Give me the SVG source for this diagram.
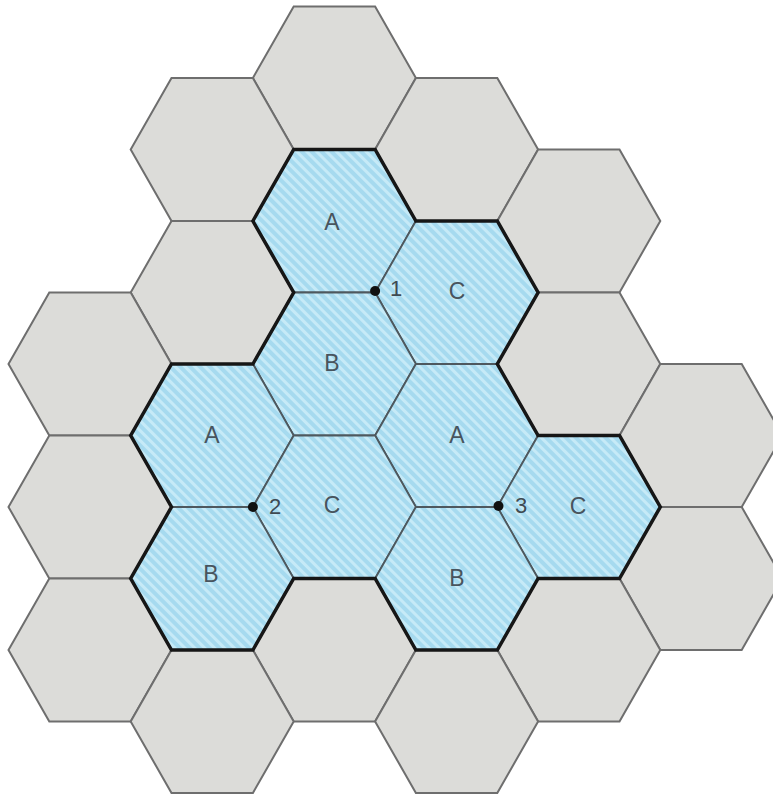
<svg xmlns="http://www.w3.org/2000/svg" xmlns:xlink="http://www.w3.org/1999/xlink" width="773" height="796" viewBox="0 0 773 796">
<style>
.grey{fill:#dcdcd9;stroke:#6e6e6e;stroke-width:2}
.blue{fill:url(#hatch);stroke:#4e585e;stroke-width:1.8}
.lbl{font-family:"Liberation Sans",Arial,sans-serif;font-size:23px;fill:#48545e;text-anchor:middle}
.num{font-family:"Liberation Sans",Arial,sans-serif;font-size:22px;fill:#3f4a52;text-anchor:middle}
.outline{fill:none;stroke:#161616;stroke-width:3.5;stroke-linejoin:miter}
.dot{fill:#111}
</style>
<defs>
<pattern id="hatch" width="7" height="7" patternUnits="userSpaceOnUse" patternTransform="rotate(-45)">
<rect width="7" height="7" fill="#a6daef"/>
<rect width="3" height="7" fill="#c6eaf7"/>
</pattern>
<polygon id="hex" points="-81.5,0 -40.7,-71.5 40.7,-71.5 81.5,0 40.7,71.5 -40.7,71.5"/>
</defs>
<rect width="773" height="796" fill="#ffffff"/>
<g id="grey-hexes">
<g id="g-2-0"><use xlink:href="#hex" href="#hex" class="grey" transform="translate(334.4,78)"/></g>
<g id="g-1-1"><use xlink:href="#hex" href="#hex" class="grey" transform="translate(212.2,149.5)"/></g>
<g id="g-3-1"><use xlink:href="#hex" href="#hex" class="grey" transform="translate(456.6,149.5)"/></g>
<g id="g-4-2"><use xlink:href="#hex" href="#hex" class="grey" transform="translate(578.8,221)"/></g>
<g id="g-1-3"><use xlink:href="#hex" href="#hex" class="grey" transform="translate(212.2,292.5)"/></g>
<g id="g-0-4"><use xlink:href="#hex" href="#hex" class="grey" transform="translate(90,364)"/></g>
<g id="g-4-4"><use xlink:href="#hex" href="#hex" class="grey" transform="translate(578.8,364)"/></g>
<g id="g-5-5"><use xlink:href="#hex" href="#hex" class="grey" transform="translate(701,435.5)"/></g>
<g id="g-0-6"><use xlink:href="#hex" href="#hex" class="grey" transform="translate(90,507)"/></g>
<g id="g-5-7"><use xlink:href="#hex" href="#hex" class="grey" transform="translate(701,578.5)"/></g>
<g id="g-0-8"><use xlink:href="#hex" href="#hex" class="grey" transform="translate(90,650)"/></g>
<g id="g-2-8"><use xlink:href="#hex" href="#hex" class="grey" transform="translate(334.4,650)"/></g>
<g id="g-4-8"><use xlink:href="#hex" href="#hex" class="grey" transform="translate(578.8,650)"/></g>
<g id="g-1-9"><use xlink:href="#hex" href="#hex" class="grey" transform="translate(212.2,721.5)"/></g>
<g id="g-3-9"><use xlink:href="#hex" href="#hex" class="grey" transform="translate(456.6,721.5)"/></g>
</g>
<g id="blue-hexes">
<g id="hex-A-top"><use xlink:href="#hex" href="#hex" class="blue" transform="translate(334.4,221)"/><text class="lbl" x="332" y="230">A</text></g>
<g id="hex-C-top"><use xlink:href="#hex" href="#hex" class="blue" transform="translate(456.6,292.5)"/><text class="lbl" x="457" y="299">C</text></g>
<g id="hex-B-mid"><use xlink:href="#hex" href="#hex" class="blue" transform="translate(334.4,364)"/><text class="lbl" x="332" y="371">B</text></g>
<g id="hex-A-left"><use xlink:href="#hex" href="#hex" class="blue" transform="translate(212.2,435.5)"/><text class="lbl" x="212" y="443">A</text></g>
<g id="hex-A-right"><use xlink:href="#hex" href="#hex" class="blue" transform="translate(456.6,435.5)"/><text class="lbl" x="457" y="443">A</text></g>
<g id="hex-C-mid"><use xlink:href="#hex" href="#hex" class="blue" transform="translate(334.4,507)"/><text class="lbl" x="332" y="513">C</text></g>
<g id="hex-C-right"><use xlink:href="#hex" href="#hex" class="blue" transform="translate(578.8,507)"/><text class="lbl" x="578" y="514">C</text></g>
<g id="hex-B-left"><use xlink:href="#hex" href="#hex" class="blue" transform="translate(212.2,578.5)"/><text class="lbl" x="211" y="582">B</text></g>
<g id="hex-B-right"><use xlink:href="#hex" href="#hex" class="blue" transform="translate(456.6,578.5)"/><text class="lbl" x="457" y="586">B</text></g>
</g>
<g id="connectors">
<path class="outline" d="M252.9,221 L293.7,149.5 L375.1,149.5 L415.9,221 L497.3,221 L538.1,292.5 L497.3,364 L538.1,435.5 L619.5,435.5 L660.3,507 L619.5,578.5 L538.1,578.5 L497.3,650 L415.9,650 L375.1,578.5 L293.7,578.5 L252.9,650 L171.5,650 L130.7,578.5 L171.5,507 L130.7,435.5 L171.5,364 L252.9,364 L293.7,292.5 Z"/>
</g>
<g id="point-1"><circle class="dot" cx="375.1" cy="291" r="5"/><text class="num" x="396" y="296">1</text></g>
<g id="point-2"><circle class="dot" cx="252.9" cy="507" r="5"/><text class="num" x="275" y="514">2</text></g>
<g id="point-3"><circle class="dot" cx="498.5" cy="506" r="5"/><text class="num" x="521" y="513">3</text></g>
</svg>
